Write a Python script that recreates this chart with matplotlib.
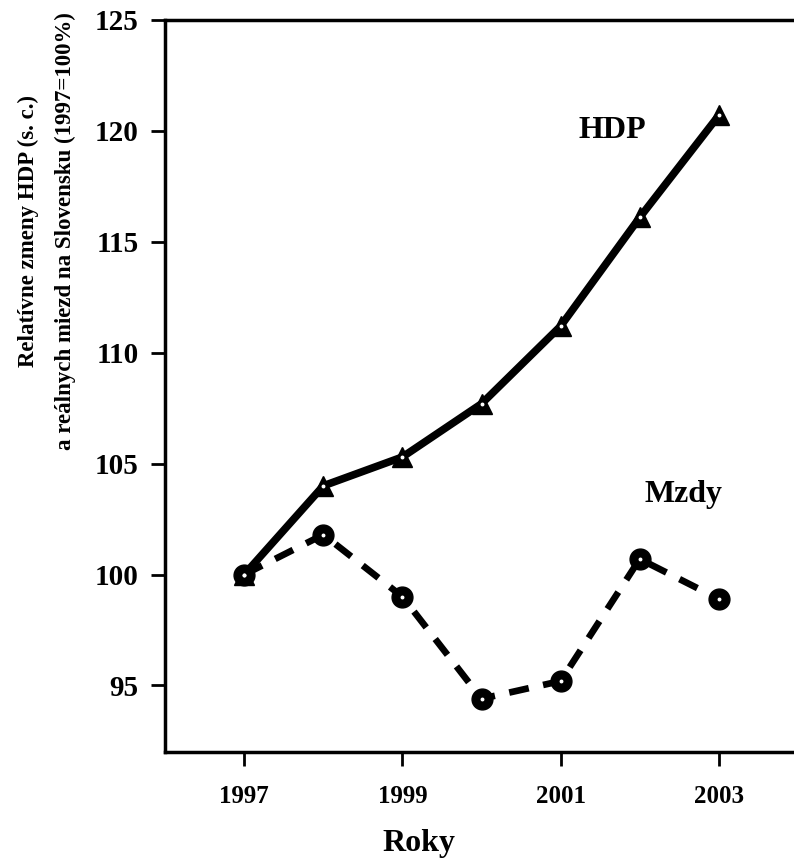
import matplotlib
matplotlib.use("Agg")
from matplotlib import pyplot as plt

years = [1997, 1998, 1999, 2000, 2001, 2002, 2003]
hdp = [100.0, 104.0, 105.3, 107.7, 111.2, 116.1, 120.7]
mzdy = [100.0, 101.8, 99.0, 94.4, 95.2, 100.7, 98.9]
xticks = [1997, 1999, 2001, 2003]
yticks = [95, 100, 105, 110, 115, 120, 125]

plt.rcParams['font.family'] = ['Liberation Serif', 'DejaVu Serif']
plt.rcParams['font.weight'] = 'bold'

fig = plt.figure(figsize=(7.94, 8.64), dpi=100)
ax = fig.add_axes([0.208, 0.1296, 0.792, 0.8473])

ax.plot(years, hdp, color='black', linewidth=5.5, marker='^', markersize=14,
        solid_joinstyle='miter')
ax.plot(years, mzdy, color='black', linewidth=4.8, linestyle=(0, (3, 2.2)),
        marker='o', markersize=15)
# tiny white dots in the middle of markers
ax.plot(years, hdp, linestyle='none', marker='o', markersize=1.8,
        markerfacecolor='white', markeredgecolor='white')
ax.plot(years, mzdy, linestyle='none', marker='o', markersize=1.8,
        markerfacecolor='white', markeredgecolor='white')

ax.set_xlim(1996, 2003.95)
ax.set_ylim(92, 125)
ax.set_xticks(xticks)
ax.set_yticks(yticks)
ax.set_xticklabels([str(x) for x in xticks], fontsize=18, fontweight='bold')
ax.set_yticklabels([str(y) for y in yticks], fontsize=21, fontweight='bold')
ax.tick_params(axis='both', direction='out', length=10, width=2)
ax.tick_params(axis='x', pad=14)
ax.tick_params(axis='y', pad=9)

for s in ['left', 'top', 'bottom']:
    ax.spines[s].set_linewidth(2.5)
ax.spines['right'].set_visible(False)

fig.text(419 / 794, 1 - 843 / 864, "Roky", fontsize=23, fontweight='bold',
         ha='center', va='center')
fig.text(47 / 794, 1 - 231 / 864,
         "Relatívne zmeny HDP (s. c.)\na reálnych miezd na Slovensku (1997=100%)",
         fontsize=16.5, fontweight='bold', rotation=90, ha='center', va='center',
         multialignment='center', linespacing=1.95)

ax.text(2001.65, 120.0, "HDP", fontsize=23, fontweight='bold', ha='center', va='center')
ax.text(2002.55, 103.6, "Mzdy", fontsize=23, fontweight='bold', ha='center', va='center')

fig.savefig("out.png", dpi=100)
